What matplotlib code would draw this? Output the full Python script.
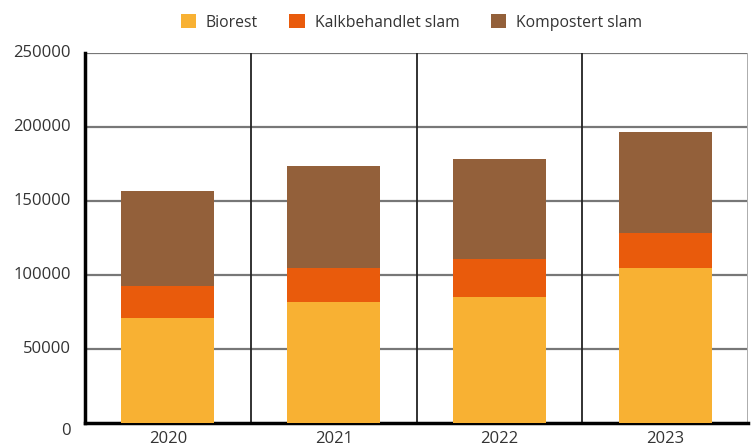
import matplotlib.pyplot as plt
import numpy as np

plt.rcParams['font.family'] = ['Open Sans', 'DejaVu Sans']

years = ['2020', '2021', '2022', '2023']
biorest = [71000, 81800, 85100, 104700]
kalkbehandlet = [21600, 22900, 25700, 23700]
kompostert = [64200, 69000, 67600, 68200]

series = [
    ('Biorest', biorest, '#f8b133'),
    ('Kalkbehandlet slam', kalkbehandlet, '#e95b0c'),
    ('Kompostert slam', kompostert, '#93603a'),
]

fig = plt.figure(figsize=(7.52, 4.47), dpi=100)
ax = fig.add_axes([85 / 752, 24 / 447, 663 / 752, 370 / 447])

x = np.arange(len(years))
bottom = np.zeros(len(years))
for name, vals, color in series:
    ax.bar(x, vals, width=0.56, bottom=bottom, color=color, label=name, zorder=3)
    bottom += np.array(vals)

ax.set_xlim(-0.5, len(years) - 0.5)
ax.set_ylim(0, 250000)
ax.set_yticks(np.arange(0, 250001, 50000))
ax.set_xticks(x)
ax.set_xticklabels(years)

# horizontal grid in grey, category separators in black
for yv in np.arange(50000, 250001, 50000):
    ax.axhline(yv, color='#777777', lw=1.6, zorder=1)
for xv in np.arange(0.5, len(years), 1):
    ax.axvline(xv, color='#222222', lw=1.3, zorder=1)
ax.axvline(len(years) - 0.5, color='#bbbbbb', lw=1.3, zorder=1)

for side in ['top', 'right']:
    ax.spines[side].set_visible(False)
ax.spines['left'].set_linewidth(2.5)
ax.spines['bottom'].set_linewidth(2.5)
ax.spines['left'].set_color('black')
ax.spines['bottom'].set_color('black')

ax.tick_params(axis='both', length=0, labelsize=12, colors='#333333')
ax.tick_params(axis='y', pad=10)
ax.tick_params(axis='x', pad=6)
for lbl in ax.get_yticklabels():
    lbl.set_verticalalignment('center')
# the zero label sits a little below the axis line
ax.get_yticklabels()[0].set_verticalalignment('top')

fig.legend(loc='upper center', bbox_to_anchor=(0.547, 1.0), ncol=3, frameon=False,
           fontsize=11.3, handlelength=1.0, handleheight=1.0, columnspacing=2.0,
           handletextpad=0.6, labelcolor='#333333')

plt.savefig('out.png', dpi=100)
